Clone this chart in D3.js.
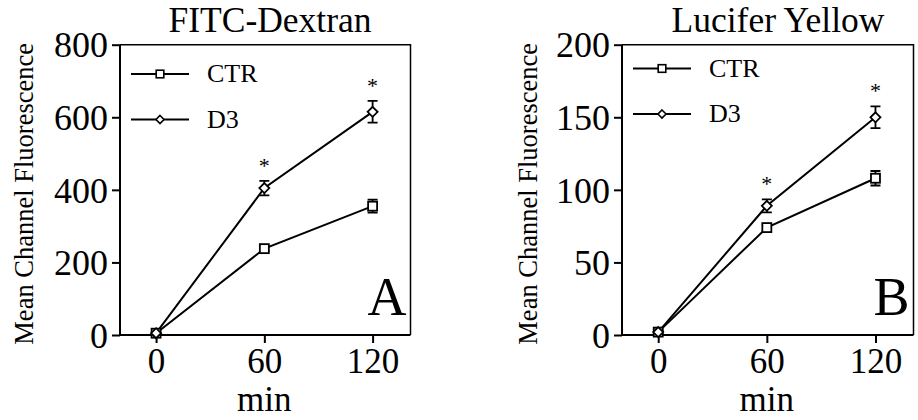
<!DOCTYPE html>
<html>
<head>
<meta charset="utf-8">
<script src="https://cdn.jsdelivr.net/npm/d3@7"></script>
<style>
  html, body { margin: 0; padding: 0; background: #fff; }
  svg text { font-family: "Liberation Serif", "Times New Roman", Times, serif !important; fill: #000; }
</style>
</head>
<body>
<svg id="chart" width="918" height="420" font-family="Liberation Serif, Times New Roman, serif"></svg>
<script>
// ---- data ----
const times = [0, 60, 120];
const xTickLabels = ["0", "60", "120"];
const seriesNames = ["CTR", "D3"];

const fitcCTR = [5, 238, 355];
const fitcCTRErr = [3, 6, 18];
const fitcD3 = [5, 405, 615];
const fitcD3Err = [3, 20, 30];
const fitcYTicks = [0, 200, 400, 600, 800];

const lyCTR = [2, 74, 108];
const lyCTRErr = [1, 2, 5];
const lyD3 = [2, 89, 150];
const lyD3Err = [1, 4.5, 7.5];
const lyYTicks = [0, 50, 100, 150, 200];

const significantTimes = [60, 120]; // asterisks on D3

// ---- drawing ----
const FONT = "Liberation Serif, Times New Roman, serif";
const svg = d3.select("#chart");

function drawPanel(cfg) {
  const g = svg.append("g").attr("font-family", FONT);
  const x = d3.scaleLinear().domain([-20, 141]).range([cfg.left, cfg.right]);
  const y = d3.scaleLinear().domain([0, cfg.yMax]).range([cfg.bottom, cfg.top]);

  // frame (top & right)
  g.append("path")
    .attr("d", `M${cfg.left},${cfg.top} H${cfg.right} V${cfg.bottom}`)
    .attr("fill", "none").attr("stroke", "#000").attr("stroke-width", 1.5);

  // y axis
  const yAxis = d3.axisLeft(y).tickValues(cfg.yTicks).tickSize(8).tickPadding(4)
    .tickFormat(d3.format("d"));
  const ya = g.append("g").attr("transform", `translate(${cfg.left},0)`).call(yAxis)
    .attr("font-family", FONT).attr("font-size", null);
  ya.select(".domain").attr("stroke-width", 2).attr("d", `M0,${cfg.top}V${cfg.bottom}`);
  ya.selectAll(".tick line").attr("stroke-width", 2);
  ya.selectAll(".tick text").attr("font-size", 36).attr("dy", "0.34em")
    .attr("font-family", FONT);

  // x axis
  const xAxis = d3.axisBottom(x).tickValues(times).tickSize(8).tickPadding(5)
    .tickFormat((d, i) => xTickLabels[i]);
  const xa = g.append("g").attr("transform", `translate(0,${cfg.bottom})`).call(xAxis)
    .attr("font-family", FONT).attr("font-size", null);
  xa.select(".domain").attr("stroke-width", 2).attr("d", `M${cfg.left},0H${cfg.right}`);
  xa.selectAll(".tick line").attr("stroke-width", 2);
  xa.selectAll(".tick text").attr("font-size", 35).attr("dy", "0.7em")
    .attr("font-family", FONT);

  // axis titles
  g.append("text").attr("x", (x(0) + x(120)) / 2).attr("y", 411)
    .attr("text-anchor", "middle").attr("font-size", 35).text("min");
  g.append("text")
    .attr("transform", `translate(${cfg.yLabelX},${(cfg.top + cfg.bottom) / 2 + 4}) rotate(-90)`)
    .attr("text-anchor", "middle").attr("font-size", 26.5).text("Mean Channel Fluorescence");

  // title
  g.append("text").attr("x", cfg.titleX).attr("y", 32)
    .attr("text-anchor", "middle").attr("font-size", 35.5).text(cfg.title);

  // panel letter
  g.append("text").attr("x", cfg.right - 4).attr("y", cfg.bottom - 20)
    .attr("text-anchor", "end").attr("font-size", 54).text(cfg.letter);

  const line = d3.line().x((d, i) => x(times[i])).y(d => y(d));

  cfg.series.forEach(s => {
    g.append("path").datum(s.values).attr("d", line)
      .attr("fill", "none").attr("stroke", "#000").attr("stroke-width", 2);
    const eb = g.append("g");
    s.values.forEach((v, i) => {
      const e = s.err[i];
      const cx = x(times[i]);
      eb.append("path")
        .attr("d", `M${cx},${y(v + e)}V${y(v - e)}M${cx - 5},${y(v + e)}H${cx + 5}M${cx - 5},${y(v - e)}H${cx + 5}`)
        .attr("stroke", "#000").attr("stroke-width", 1.8).attr("fill", "none");
    });
  });

  cfg.series.forEach(s => {
    s.values.forEach((v, i) => {
      const cx = x(times[i]), cy = y(v);
      if (s.shape === "square") {
        g.append("rect").attr("x", cx - 4.5).attr("y", cy - 4.5).attr("width", 9).attr("height", 9)
          .attr("fill", "#fff").attr("stroke", "#000").attr("stroke-width", 1.8);
      } else {
        g.append("path").attr("d", `M${cx},${cy - 5}L${cx + 5},${cy}L${cx},${cy + 5}L${cx - 5},${cy}Z`)
          .attr("fill", "#fff").attr("stroke", "#000").attr("stroke-width", 1.8);
      }
    });
  });

  const d3s = cfg.series[1];
  significantTimes.forEach(t => {
    const i = times.indexOf(t);
    g.append("text").attr("x", x(t)).attr("y", y(d3s.values[i] + d3s.err[i]) - 8)
      .attr("text-anchor", "middle").attr("font-size", 22).text("*");
  });

  cfg.series.forEach((s, k) => {
    const ly = cfg.legendY + k * 45.5;
    const lx0 = cfg.left + 11, lx1 = cfg.left + 69, mx = (lx0 + lx1) / 2;
    g.append("line").attr("x1", lx0).attr("x2", lx1).attr("y1", ly).attr("y2", ly)
      .attr("stroke", "#000").attr("stroke-width", 2);
    if (s.shape === "square") {
      g.append("rect").attr("x", mx - 3.8).attr("y", ly - 3.8).attr("width", 7.6).attr("height", 7.6)
        .attr("fill", "#fff").attr("stroke", "#000").attr("stroke-width", 1.6);
    } else {
      g.append("path").attr("d", `M${mx},${ly - 4}L${mx + 4},${ly}L${mx},${ly + 4}L${mx - 4},${ly}Z`)
        .attr("fill", "#fff").attr("stroke", "#000").attr("stroke-width", 1.6);
    }
    g.append("text").attr("x", cfg.left + 87).attr("y", ly + 8)
      .attr("font-size", 26).text(seriesNames[k]);
  });
}

drawPanel({
  left: 120, right: 410.5, top: 44.7, bottom: 335,
  yMax: 800, yTicks: fitcYTicks, yLabelX: 33, titleX: 270,
  title: "FITC-Dextran", letter: "A", legendY: 74,
  series: [
    { values: fitcCTR, err: fitcCTRErr, shape: "square" },
    { values: fitcD3, err: fitcD3Err, shape: "diamond" }
  ]
});

drawPanel({
  left: 622, right: 913.5, top: 44.7, bottom: 335,
  yMax: 200, yTicks: lyYTicks, yLabelX: 537, titleX: 778,
  title: "Lucifer Yellow", letter: "B", legendY: 68.5,
  series: [
    { values: lyCTR, err: lyCTRErr, shape: "square" },
    { values: lyD3, err: lyD3Err, shape: "diamond" }
  ]
});
</script>
</body>
</html>
